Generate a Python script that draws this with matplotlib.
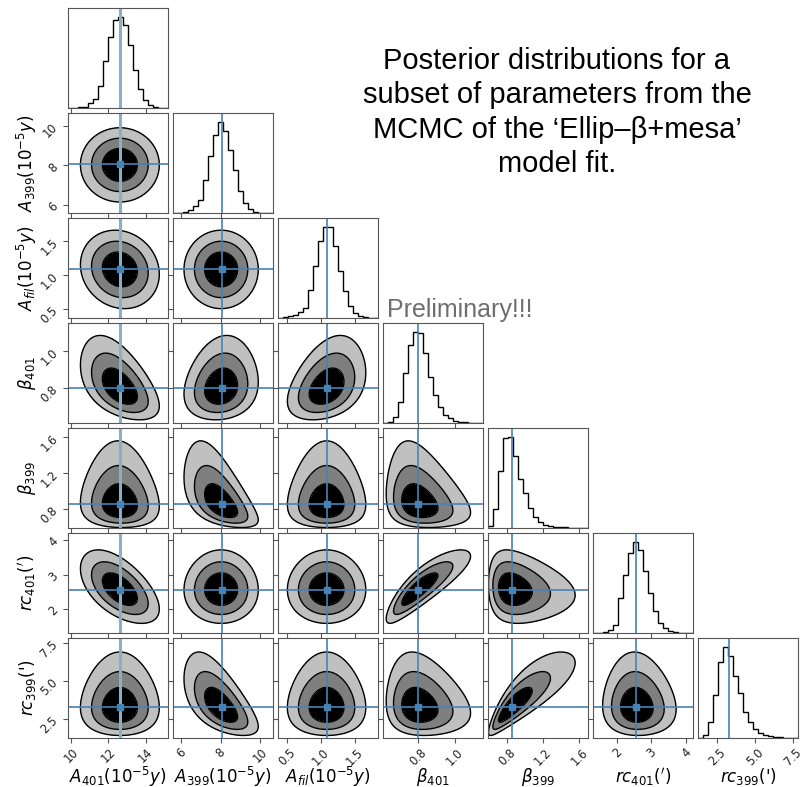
import numpy as np
import matplotlib
matplotlib.use("Agg")
import matplotlib.pyplot as plt

# parameter names / axis labels
labels = [r"$A_{401}(10^{-5}y)$", r"$A_{399}(10^{-5}y)$", r"$A_{fil}(10^{-5}y)$",
          r"$\beta_{401}$", r"$\beta_{399}$", r"$rc_{401}(')$", r"$rc_{399}$(')"]

# axis ranges and ticks
lo = [9.84, 5.60, 0.362, 0.612, 0.594, 1.31, 1.24]
hi = [15.20, 10.65, 1.84, 1.152, 1.696, 4.20, 7.85]
ticks = [[10, 12, 14], [6, 8, 10], [0.5, 1.0, 1.5], [0.8, 1.0],
         [0.8, 1.2, 1.6], [2, 3, 4], [2.5, 5.0, 7.5]]
ticklabels = [["10", "12", "14"], ["6", "8", "10"], ["0.5", "1.0", "1.5"], ["0.8", "1.0"],
              ["0.8", "1.2", "1.6"], ["2", "3", "4"], ["2.5", "5.0", "7.5"]]

# truth / best-fit values (blue lines)
truths = [12.62, 8.05, 1.09, 0.803, 0.855, 2.56, 3.26]

# 1D histograms, 20 bins each (relative heights)
hist_A401 = [0, 0, 2, 4, 15, 28, 65, 140, 212, 263, 273, 250, 190, 115, 57, 25, 10, 3, 1, 0]
hist_A399 = [0, 0, 2, 8, 20, 40, 100, 170, 235, 273, 245, 190, 130, 65, 30, 12, 3, 0, 0, 0]
hist_Afil = [0, 2, 5, 10, 18, 30, 85, 155, 230, 273, 273, 215, 140, 80, 35, 15, 5, 2, 0, 0]
hist_b401 = [0, 4, 19, 64, 149, 234, 272, 269, 209, 137, 84, 49, 24, 14, 7, 4, 2, 1, 0, 0]
hist_b399 = [5, 57, 172, 270, 273, 215, 147, 105, 60, 32, 18, 10, 6, 4, 3, 2, 1, 0, 0, 0]
hist_rc401 = [0, 0, 2, 10, 25, 105, 175, 240, 273, 250, 185, 120, 65, 30, 15, 6, 2, 0, 0, 0]
hist_rc399 = [0, 10, 47, 130, 227, 272, 245, 185, 135, 78, 47, 27, 15, 9, 5, 3, 2, 1, 0, 0]
hists = [hist_A401, hist_A399, hist_Afil, hist_b401, hist_b399, hist_rc401, hist_rc399]

# 2D contour shapes: centre, width and skew of each parameter, plus pair correlations
centre = [12.62, 8.03, 1.08, 0.80, 0.855, 2.56, 3.26]
width = [0.62, 0.55, 0.17, 0.064, 0.119, 0.31, 0.75]
skew = [0.0, 0.0, 0.0, 0.15, 0.295, 0.05, 0.20]
corr = {
    (1, 0): 0.0,
    (2, 0): -0.12, (2, 1): 0.0,
    (3, 0): -0.5, (3, 1): 0.15, (3, 2): 0.35,
    (4, 0): -0.05, (4, 1): -0.55, (4, 2): 0.0, (4, 3): -0.25,
    (5, 0): -0.55, (5, 1): 0.0, (5, 2): 0.0, (5, 3): 0.85, (5, 4): -0.15,
    (6, 0): 0.0, (6, 1): -0.6, (6, 2): 0.0, (6, 3): -0.15, (6, 4): 0.85, (6, 5): -0.05,
}
levels = [0.68, 0.95, 0.997]

truth_col = "#4682b4"
spine_col = "#555555"
n = len(labels)


def to_z(x, i):
    # inverse of x = c + w * (exp(k z) - 1) / k
    c, w, k = centre[i], width[i], skew[i]
    if k == 0:
        return (x - c) / w
    arg = 1 + k * (x - c) / w
    return np.log(np.clip(arg, 1e-9, None)) / k


def style(ax, i, j):
    for s in ax.spines.values():
        s.set_color(spine_col)
    ax.tick_params(colors=spine_col, labelcolor="#222222", length=3.5, labelsize=8.3, pad=2)
    ax.set_xlim(lo[j], hi[j])
    ax.set_xticks(ticks[j])
    if i == n - 1:
        ax.set_xticklabels(ticklabels[j], rotation=45)
        ax.set_xlabel(labels[j], fontsize=12, va="center")
        ax.xaxis.set_label_coords(0.5, -0.385)
    else:
        ax.set_xticklabels([])


fig = plt.figure(figsize=(8.04, 7.87), dpi=100)
W, H = 804.0, 787.0

for i in range(n):
    for j in range(i + 1):
        left = (68 + 105 * j) / W
        bottom = 1 - (8 + 105 * i + 100) / H
        ax = fig.add_axes([left, bottom, 100 / W, 100 / H])
        style(ax, i, j)

        if i == j:
            edges = np.linspace(lo[i], hi[i], len(hists[i]) + 1)
            ax.stairs(hists[i], edges, color="k", lw=1.0)
            ax.set_ylim(0, 1.1 * max(hists[i]))
            ax.set_yticks([])
            ax.axvline(truths[i], color="#86afc9" if i == 0 else truth_col,
                       lw=2.2 if i == 0 else 1.2)
            continue

        gx = np.linspace(lo[j], hi[j], 220)
        gy = np.linspace(lo[i], hi[i], 220)
        X, Y = np.meshgrid(gx, gy)
        zx, zy = to_z(X, j), to_z(Y, i)
        rho = corr[(i, j)]
        d2 = (zx ** 2 - 2 * rho * zx * zy + zy ** 2) / (1 - rho ** 2)
        r2 = [-2 * np.log(1 - L) for L in levels]
        ax.contourf(X, Y, d2, levels=[0] + r2, colors=["black", "#7f7f7f", "#c0c0c0"])
        ax.contour(X, Y, d2, levels=r2, colors="k", linewidths=1.0)
        ax.set_ylim(lo[i], hi[i])
        ax.set_yticks(ticks[i])
        if j == 0:
            ax.set_yticklabels(ticklabels[i], rotation=45)
            ax.set_ylabel(labels[i], fontsize=12, va="center")
            ax.yaxis.set_label_coords(-0.41, 0.5)
        else:
            ax.set_yticklabels([])

        ax.axvline(truths[j], color="#86afc9" if j == 0 else truth_col,
                   lw=2.2 if j == 0 else 1.2)
        ax.axhline(truths[i], color=truth_col, lw=1.2)
        ax.plot(truths[j], truths[i], "s", color=truth_col, ms=4)

fig.text(557 / W, 1 - 112.5 / H,
         "Posterior distributions for a\nsubset of parameters from the\n"
         "MCMC of the \u2018Ellip\u2013\u03b2+mesa\u2019\nmodel fit.",
         ha="center", va="center", fontsize=21, family="Liberation Sans",
         linespacing=1.3, multialignment="center")
fig.text(387 / W, 1 - 316.7 / H, "Preliminary!!!", ha="left", va="baseline",
         fontsize=18, family="Liberation Sans", color="#6e6e6e")

fig.savefig("out.png", dpi=100)
